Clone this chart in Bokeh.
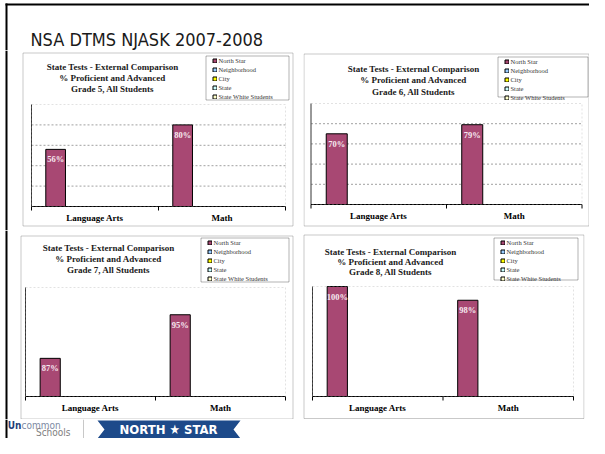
import math
from bokeh.plotting import figure
from bokeh.layouts import column, row
from bokeh.models import (ColumnDataSource, FactorRange, Range1d, CategoricalAxis,
                          Legend, LegendItem, Label, LabelSet, BoxAnnotation)
from bokeh.transform import dodge
from bokeh.core.properties import value
from bokeh.embed import file_html
from bokeh.resources import INLINE

NA = float("nan")

# ---------------- data ----------------
page_title = "NSA DTMS NJASK 2007-2008"
chart_title = ["State Tests - External Comparison", "% Proficient and Advanced"]
grade_labels = ["Grade 5, All Students", "Grade 6, All Students",
                "Grade 7, All Students", "Grade 8, All Students"]
categories = ["Language Arts", "Math"]
series_names = ["North Star", "Neighborhood", "City", "State", "State White Students"]
series_colors = ["#A84873", "#99CCFF", "#FFFF00", "#CCFFFF", "#FFFFCC"]

north_star_g5 = [56, 80]
north_star_g6 = [70, 79]
north_star_g7 = [87, 95]
north_star_g8 = [100, 98]
# comparison series: no values shown in the picture
neighborhood = [NA, NA]
city = [NA, NA]
state = [NA, NA]
state_white = [NA, NA]

y_limits = [(0, 100), (0, 100), (80, 100), (84, 100)]
grid_ticks = [[20, 40, 60, 80], [20, 40, 60, 80], [], []]

SERIF = "Liberation Serif"
SANS_N = "DejaVu Sans Condensed, Liberation Sans"
BAR_W = 0.155


def has_value(v):
    return v is not None and not (isinstance(v, float) and math.isnan(v))


def panel(idx, ns_values, W, H, frame_lr, plot_box, box, title_x, title_ys, legend_box):
    fl, fr = frame_lr
    px0, px1, py0, py1 = plot_box
    ylo, yhi = y_limits[idx]
    n = len(categories)
    unit = (px1 - px0) / n
    pad_each = ((fr - fl) - (px1 - px0)) / unit / 2
    dpp = (yhi - ylo) / (py1 - py0)
    p = figure(width=W, height=H,
               x_range=FactorRange(*categories, range_padding=pad_each,
                                   range_padding_units="absolute"),
               y_range=Range1d(ylo - (H - py1) * dpp, yhi + py0 * dpp),
               x_axis_location=None, y_axis_location=None, toolbar_location=None,
               output_backend="svg", min_border_left=fl, min_border_right=W - fr,
               min_border_top=0, min_border_bottom=0)
    p.outline_line_color = None
    p.xgrid.visible = False
    p.ygrid.visible = False

    # plot-area: dashed gridlines and border, solid left edge
    gsrc = ColumnDataSource(dict(y=grid_ticks[idx]))
    p.segment(x0=0, x1=n, y0="y", y1="y", source=gsrc, line_color="#a0a0a0",
              line_dash="2 2", line_width=1)
    p.add_layout(BoxAnnotation(left=0, right=n, bottom=ylo, top=yhi, fill_color=None,
                               fill_alpha=0, line_color="#a0a0a0", line_dash="2 2",
                               line_width=1))
    p.segment(x0=[0], x1=[0], y0=[ylo], y1=[yhi], line_color="#333333", line_width=1)

    # axis line with ticks on the category boundaries
    edges = list(range(n + 1))
    p.segment(x0=[0], x1=[n], y0=[ylo], y1=[ylo], line_color="black", line_width=1)
    p.segment(x0=edges, x1=edges, y0=[ylo] * len(edges), y1=[ylo - 4 * dpp] * len(edges),
              line_color="black", line_width=1)
    cax = CategoricalAxis(fixed_location=ylo, major_tick_line_color=None, axis_line_color=None,
                          major_tick_in=0, major_tick_out=0, major_label_standoff=6,
                          major_label_text_font=SERIF, major_label_text_font_style="bold",
                          major_label_text_font_size="9px", major_label_text_color="black")
    p.add_layout(cax, "below")

    all_vals = [ns_values, neighborhood, city, state, state_white]
    gap = 1 - len(series_names) * BAR_W
    items = []
    for k, (name, color, vals) in enumerate(zip(series_names, series_colors, all_vals)):
        off = -0.5 + gap / 2 + BAR_W * (k + 0.5)
        src = ColumnDataSource(dict(cat=categories, val=vals,
                                    lbl=[f"{v}%" if has_value(v) else "" for v in vals]))
        r = p.vbar(x=dodge("cat", off, range=p.x_range), top="val", bottom=ylo,
                   width=BAR_W, source=src, fill_color=color, line_color="black", line_width=1)
        items.append(LegendItem(label=name, renderers=[r]))
        if any(has_value(v) for v in vals):
            p.add_layout(LabelSet(x=dodge("cat", off, range=p.x_range), y="val", text="lbl",
                                  source=src, text_align="center", text_baseline="top",
                                  y_offset=-5, text_font=value(SERIF), text_font_style="bold",
                                  text_font_size="8.5px", text_color="#f6e9f0"))

    # chart title (screen units: x from frame left, y up from canvas bottom)
    for line, cy in zip(chart_title + [grade_labels[idx]], title_ys):
        p.add_layout(Label(x=title_x - fl, y=H - cy + 1, x_units="screen", y_units="screen",
                           text=line, text_align="center", text_baseline="middle",
                           text_font=SERIF, text_font_style="bold", text_font_size="9px",
                           text_color="#1a1a1a"))

    # legend
    lx0, ly0, lx1, ly1 = legend_box
    p.add_layout(BoxAnnotation(left=lx0 - fl, right=lx1 - fl, top=H - ly0, bottom=H - ly1,
                               left_units="screen", right_units="screen", top_units="screen",
                               bottom_units="screen", fill_color="white", fill_alpha=1,
                               line_color="black", line_width=1))
    leg = Legend(items=items, location=(lx0 + 6 - fl, H - (ly0 - 1 + 46)), margin=0, padding=1,
                 spacing=1, label_height=8, glyph_height=5, glyph_width=5, label_standoff=2,
                 label_text_font=SERIF, label_text_font_size="6.5px", label_text_color="#333333",
                 border_line_color=None, background_fill_alpha=0)
    p.add_layout(leg)

    # panel frame box
    bx0, by0, bx1, by1 = box
    p.add_layout(BoxAnnotation(left=bx0 - fl, right=bx1 - fl, top=H - by0, bottom=H - by1,
                               left_units="screen", right_units="screen", top_units="screen",
                               bottom_units="screen", fill_color=None, fill_alpha=0,
                               line_color="#4d4d4d", line_width=1))
    return p


def canvas(W, H):
    f = figure(width=W, height=H, x_range=Range1d(0, W), y_range=Range1d(H, 0),
               x_axis_location=None, y_axis_location=None, toolbar_location=None,
               output_backend="svg", min_border_left=0, min_border_right=0,
               min_border_top=0, min_border_bottom=0)
    f.grid.visible = False
    f.outline_line_color = None
    return f


def strip(H):
    s = canvas(8, H)
    s.quad(left=[5], right=[7], top=[0], bottom=[H], fill_color="black", line_color=None)
    return s


def text_label(f, H, x, cy, txt, size, color, align="left", bold=False):
    f.add_layout(Label(x=x, y=H - cy, x_units="screen", y_units="screen", text=txt,
                       text_align=align, text_baseline="middle", text_font=SANS_N,
                       text_font_size=size, text_color=color,
                       text_font_style="bold" if bold else "normal"))


hdr = canvas(589, 50)
hdr.quad(left=[5, 5], right=[589, 7], top=[3, 3], bottom=[5, 50], fill_color="black",
         line_color=None)
text_label(hdr, 50, 30, 38.5, page_title, "18px", "#1a1a1a")

R2 = 189
pA = panel(0, north_star_g5, 290, 180, (13, 287), (23, 277, 54, 156), (14.5, 2.5, 284.5, 175.5),
           104, [17, 28, 39], (197.5, 5.5, 280.5, 49.5))
pB = panel(1, north_star_g6, 291, 180, (5, 291), (12.5, 283.5, 53, 154), (5.5, 3.5, 290.5, 175.5),
           115, [19, 30.7, 42.3], (199.5, 6.5, 289.5, 46.5))
pC = panel(2, north_star_g7, 290, R2, (8, 286), (17, 277, 57, 166), (12.5, 5.5, 284.5, R2 - 0.5),
           100, [18.7, 29.7, 40.7], (192.5, 7.5, 280.5, 51.5))
pD = panel(3, north_star_g8, 291, R2, (3, 286), (14, 275, 56, 166), (5.5, 4.5, 285.5, R2 - 1),
           92, [22, 32, 42.3], (195.5, 7.5, 279.5, 49.5))

FH = 19
ftr = canvas(589, FH)
ftr.quad(left=[5], right=[7], top=[0], bottom=[FH], fill_color="black", line_color=None)
text_label(ftr, FH, 21, 6, "Un", "10px", "#1F3F7A", align="right", bold=True)
text_label(ftr, FH, 21, 6, "common", "10px", "#7d8aa3")
text_label(ftr, FH, 70, 13, "Schools", "10px", "#808080", align="right")
ftr.segment(x0=[83], y0=[0], x1=[83], y1=[FH], line_color="#c8c8c8", line_width=1)
ftr.patch(x=[97, 240, 233, 240, 97, 104], y=[1, 1, 10, 19, 19, 10], fill_color="#1D4A8A",
          line_color=None)
text_label(ftr, FH, 168, 10, "NORTH ★ STAR", "13px", "white", align="center", bold=True)

layout = column(hdr, row(strip(180), pA, pB), row(strip(R2), pC, pD), ftr)
open("out.html", "w").write(file_html(layout, INLINE))
